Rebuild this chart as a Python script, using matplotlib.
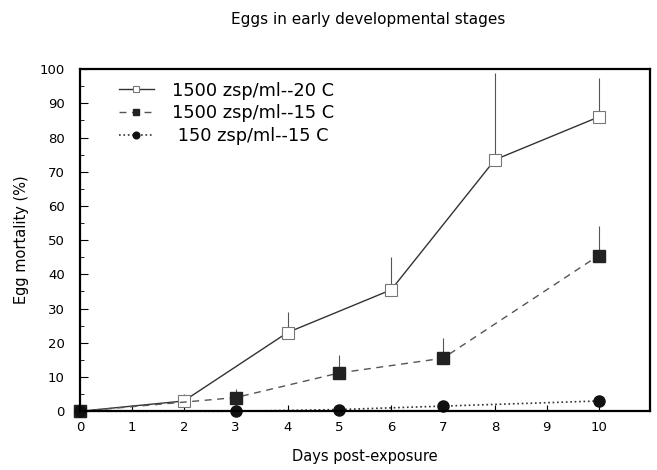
import matplotlib
matplotlib.use("Agg")
import matplotlib.pyplot as plt
from matplotlib.ticker import MultipleLocator

plt.rcParams['font.family'] = ['DejaVu Sans']

# open squares, solid line
days_a = [0, 2, 4, 6, 8, 10]
mort_a = [0, 3, 23, 35.5, 73.5, 86]
err_a = [0, 2, 6, 9.5, 25.5, 11.5]

# filled squares, dashed line
days_b = [0, 3, 5, 7, 10]
mort_b = [0, 4, 11.2, 15.5, 45.5]
err_b = [0, 2.4, 5.2, 6, 8.5]

# filled circles, dotted line
days_c = [0, 3, 5, 7, 10]
mort_c = [0, 0, 0.5, 1.5, 3]

labels = ['1500 zsp/ml--20 C', '1500 zsp/ml--15 C', ' 150 zsp/ml--15 C']

fig = plt.figure(figsize=(6.57, 4.70), dpi=100)
ax = fig.add_axes([0.122, 0.125, 0.868, 0.728])

ax.errorbar(days_a, mort_a, yerr=[[0] * len(err_a), err_a], fmt='none',
            ecolor='#555555', elinewidth=0.8, capsize=0)
ax.errorbar(days_b, mort_b, yerr=[[0] * len(err_b), err_b], fmt='none',
            ecolor='#555555', elinewidth=0.8, capsize=0)

ax.plot(days_a, mort_a, '-', color='#333333', lw=1.0, marker='s', ms=8,
        mfc='white', mec='#777777', mew=0.8, label=labels[0], clip_on=False)
ax.plot(days_b, mort_b, '--', color='#555555', lw=1.0, dashes=(5, 4),
        marker='s', ms=8, mfc='#222222', mec='#222222', label=labels[1],
        clip_on=False)
ax.plot(days_c, mort_c, ':', color='#333333', lw=1.2, marker='o', ms=8,
        mfc='#111111', mec='#111111', label=labels[2], clip_on=False)

ax.set_xlim(0, 11)
ax.set_ylim(0, 100)
ax.set_xticks(range(0, 11))
ax.yaxis.set_major_locator(MultipleLocator(10))
ax.yaxis.set_minor_locator(MultipleLocator(5))
ax.tick_params(axis='both', which='both', direction='in', labelsize=9.5)
ax.tick_params(axis='y', which='major', length=6, pad=11)
ax.tick_params(axis='y', which='minor', length=3)
ax.tick_params(axis='x', length=4, pad=7)
for s in ['left', 'bottom', 'top', 'right']:
    ax.spines[s].set_linewidth(1.6)

ax.set_xlabel('Days post-exposure', fontsize=10.5, labelpad=11)
ax.set_ylabel('Egg mortality (%)', fontsize=10.5, labelpad=8)
fig.suptitle('Eggs in early developmental stages', x=0.56, y=0.975, fontsize=11)

leg = ax.legend(loc='upper left', bbox_to_anchor=(0.055, 0.984), frameon=False,
                fontsize=12.8, handlelength=2.0, handletextpad=1.0,
                borderaxespad=0, markerscale=0.6, labelspacing=0.27)

fig.savefig('out.png', dpi=100)
